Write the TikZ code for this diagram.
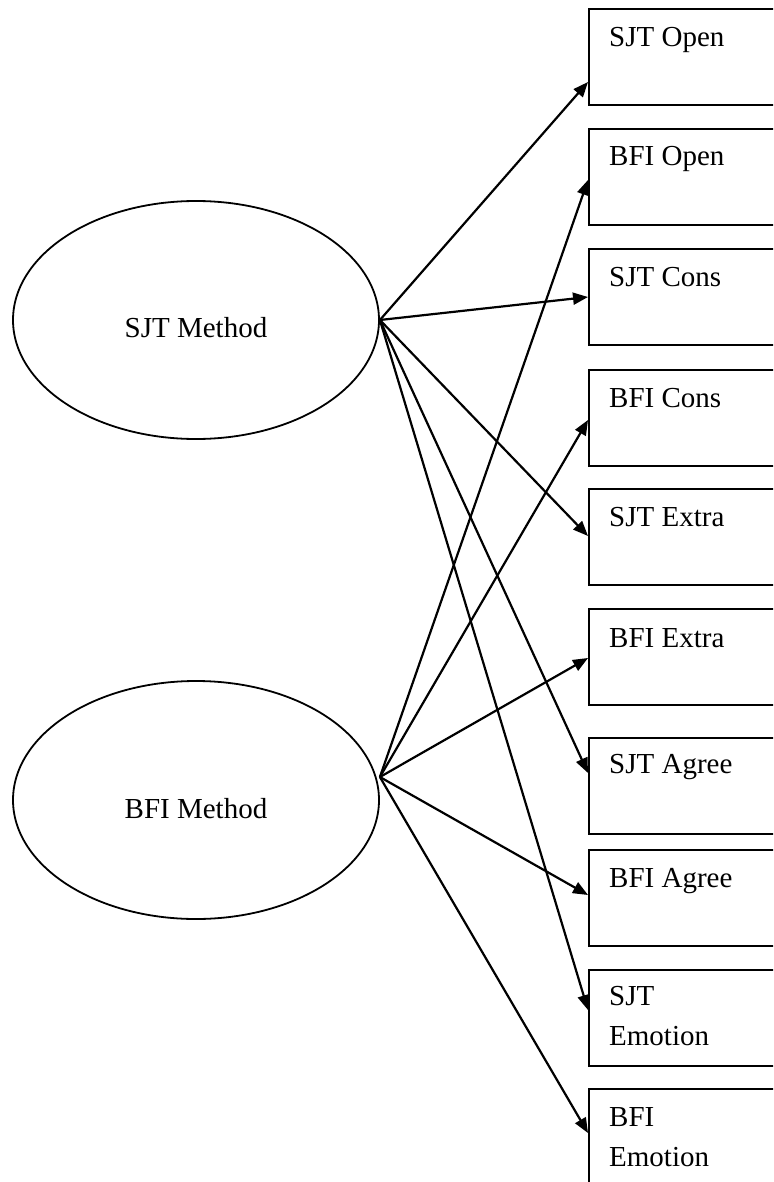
\documentclass[tikz,border=0pt]{standalone}
\usepackage{fontspec}
\setmainfont{Liberation Serif}
\usetikzlibrary{shapes.geometric,arrows.meta}
\begin{document}
\begin{tikzpicture}[x=1pt,y=-1pt,
  latent/.style={ellipse,draw,line width=1.8pt,minimum width=366pt,minimum height=238pt,inner sep=0pt},
  obs/.style={rectangle,draw,line width=2.2pt,minimum width=260pt,minimum height=96pt,anchor=north west,inner sep=0pt},
  txt/.style={inner sep=0pt,font=\fontsize{29}{40}\selectfont},
  boxtxt/.style={txt,anchor=base west},
  conn/.style={line width=2.2pt,-{Triangle[length=15pt,width=12pt]}}]
\useasboundingbox (0,0) rectangle (773,1182);
\fill[white] (0,0) rectangle (773,1182);
\clip (0,0) rectangle (773,1182);

% latent variables
\node[latent] (sjt) at (196,320) {};
\node[txt,anchor=base] (sjtlbl) at ([yshift=-17pt]sjt.center) {SJT Method};
\node[latent] (bfi) at (196,800) {};
\node[txt,anchor=base] (bfilbl) at ([yshift=-18pt]bfi.center) {BFI Method};
\coordinate (bfiout) at ([yshift=23pt]bfi.east);

% observed boxes
\node[obs] (b1) at (588,8) {};
\node[obs] (b2) at (588,128) {};
\node[obs] (b3) at (588,248) {};
\node[obs] (b4) at (588,369) {};
\node[obs] (b5) at (588,488) {};
\node[obs] (b6) at (588,608) {};
\node[obs] (b7) at (588,737) {};
\node[obs] (b8) at (588,849) {};
\node[obs] (b9) at (588,969) {};
\node[obs] (b10) at (588,1088) {};

\node[boxtxt] (t1) at ([xshift=21pt,yshift=-39pt]b1.north west) {SJT Open};
\node[boxtxt] (t2) at ([xshift=21pt,yshift=-38pt]b2.north west) {BFI Open};
\node[boxtxt] (t3) at ([xshift=21pt,yshift=-38pt]b3.north west) {SJT Cons};
\node[boxtxt] (t4) at ([xshift=21pt,yshift=-38pt]b4.north west) {BFI Cons};
\node[boxtxt] (t5) at ([xshift=21pt,yshift=-38pt]b5.north west) {SJT Extra};
\node[boxtxt] (t6) at ([xshift=21pt,yshift=-39pt]b6.north west) {BFI Extra};
\node[boxtxt] (t7) at ([xshift=21pt,yshift=-36pt]b7.north west) {SJT Agree};
\node[boxtxt] (t8) at ([xshift=21pt,yshift=-38pt]b8.north west) {BFI Agree};
\node[boxtxt] (t9) at ([xshift=21pt,yshift=-36pt]b9.north west) {\parbox[t]{150pt}{SJT\\Emotion}};
\node[boxtxt] (t10) at ([xshift=21pt,yshift=-38pt]b10.north west) {\parbox[t]{150pt}{BFI\\Emotion}};

% connectors from SJT Method
\draw[conn] (sjt.east) -- ([yshift=-74pt]b1.north west);
\draw[conn] (sjt.east) -- ([yshift=-49pt]b3.north west);
\draw[conn] (sjt.east) -- ([yshift=-48pt]b5.north west);
\draw[conn] (sjt.east) -- ([yshift=-36pt]b7.north west);
\draw[conn] (sjt.east) -- ([yshift=-41pt]b9.north west);

% connectors from BFI Method
\draw[conn] (bfiout) -- ([yshift=-52pt]b2.north west);
\draw[conn] (bfiout) -- ([yshift=-51pt]b4.north west);
\draw[conn] (bfiout) -- ([yshift=-50pt]b6.north west);
\draw[conn] (bfiout) -- ([yshift=-46pt]b8.north west);
\draw[conn] (bfiout) -- ([yshift=-45pt]b10.north west);
\end{tikzpicture}
\end{document}
